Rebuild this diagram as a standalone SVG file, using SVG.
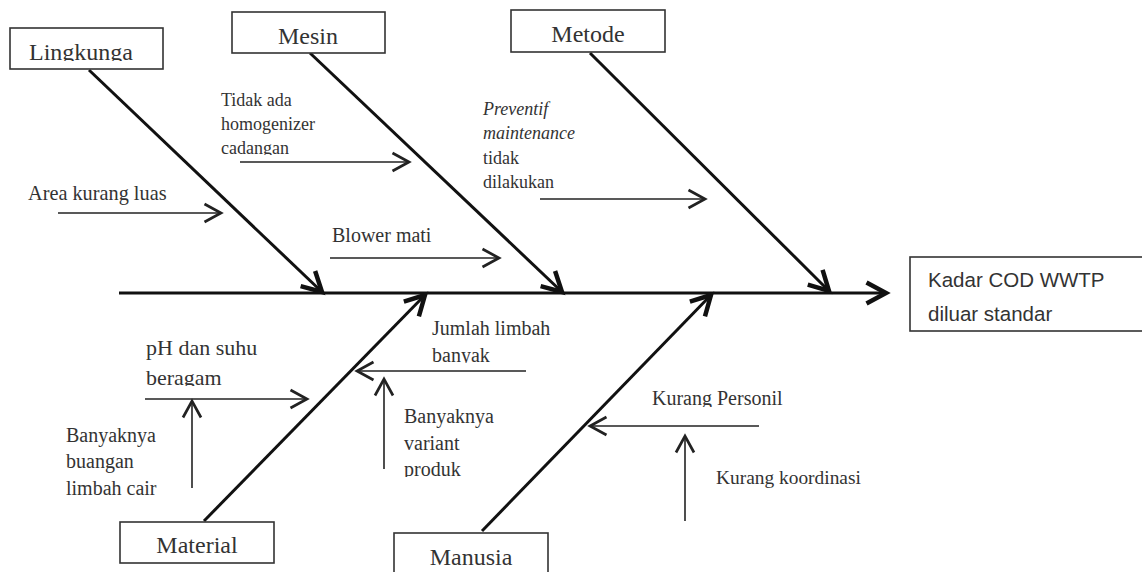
<svg xmlns="http://www.w3.org/2000/svg" width="1142" height="572" viewBox="0 0 1142 572">
<style>
.box{fill:#fff;stroke:#333;stroke-width:1.6}
.bone{stroke:#111;stroke-width:3;fill:none}
.sub{stroke:#222;stroke-width:1.6;fill:none}
.t{font-family:"Liberation Serif","Times New Roman",serif;fill:#333}
.cat{font-size:24px}
.s{font-size:18px}
.k{font-family:"Liberation Sans",Arial,sans-serif;font-size:20.5px;fill:#333}
</style>
<defs>
<marker id="ah" markerUnits="userSpaceOnUse" markerWidth="30" markerHeight="30" refX="0" refY="0" viewBox="-15 -10 20 20" orient="auto">
<path d="M-13,-7 L0,0 L-13,7" fill="none" stroke="#111" stroke-width="3"/>
</marker>
<marker id="as" markerUnits="userSpaceOnUse" markerWidth="30" markerHeight="30" refX="0" refY="0" viewBox="-15 -10 20 20" orient="auto">
<path d="M-11,-6 L0,0 L-11,6" fill="none" stroke="#222" stroke-width="1.8"/>
</marker>
<clipPath id="cLing"><rect x="10" y="28" width="153" height="33"/></clipPath>
<clipPath id="cJum"><rect x="420" y="310" width="150" height="53"/></clipPath>
<clipPath id="cPers"><rect x="640" y="380" width="160" height="27"/></clipPath>
<clipPath id="cPH"><rect x="130" y="330" width="160" height="56"/></clipPath>
<clipPath id="cVar"><rect x="395" y="400" width="120" height="77"/></clipPath>
<clipPath id="cKad"><rect x="912" y="259" width="230" height="64"/></clipPath>
<clipPath id="cTid"><rect x="210" y="80" width="150" height="75"/></clipPath>
</defs>

<g id="connectors">
<line class="bone" x1="119" y1="293" x2="886" y2="293" marker-end="url(#ah)"/>
<line class="bone" x1="89" y1="70" x2="322" y2="292" marker-end="url(#ah)"/>
<line class="bone" x1="310" y1="53" x2="562" y2="292" marker-end="url(#ah)"/>
<line class="bone" x1="590" y1="53" x2="829" y2="291" marker-end="url(#ah)"/>
<line class="bone" x1="204" y1="521" x2="425" y2="295" marker-end="url(#ah)"/>
<line class="bone" x1="482" y1="531" x2="711" y2="295" marker-end="url(#ah)"/>
<line class="sub" x1="240" y1="162" x2="409" y2="162" marker-end="url(#as)"/>
<line class="sub" x1="58" y1="213" x2="221" y2="213" marker-end="url(#as)"/>
<line class="sub" x1="330" y1="258" x2="499" y2="258" marker-end="url(#as)"/>
<line class="sub" x1="540" y1="199" x2="705" y2="199" marker-end="url(#as)"/>
<line class="sub" x1="526" y1="371" x2="357" y2="371" marker-end="url(#as)"/>
<line class="sub" x1="384" y1="469" x2="384" y2="379" marker-end="url(#as)"/>
<line class="sub" x1="145" y1="399" x2="307" y2="399" marker-end="url(#as)"/>
<line class="sub" x1="192" y1="488" x2="192" y2="401" marker-end="url(#as)"/>
<line class="sub" x1="759" y1="426" x2="590" y2="426" marker-end="url(#as)"/>
<line class="sub" x1="685" y1="521" x2="685" y2="436" marker-end="url(#as)"/>
</g>

<g id="node-lingkungan">
<rect class="box" x="10" y="28" width="153" height="41"/>
<text class="t cat" x="29" y="60" clip-path="url(#cLing)">Lingkunga</text>
</g>
<g id="node-mesin">
<rect class="box" x="232" y="12" width="153" height="41"/>
<text class="t cat" x="308" y="44" text-anchor="middle">Mesin</text>
</g>
<g id="node-metode">
<rect class="box" x="511" y="10" width="154" height="42"/>
<text class="t cat" x="588" y="42" text-anchor="middle">Metode</text>
</g>
<g id="node-material">
<rect class="box" x="120" y="522" width="154" height="41"/>
<text class="t cat" x="197" y="553" text-anchor="middle">Material</text>
</g>
<g id="node-manusia">
<rect class="box" x="394" y="533" width="154" height="45"/>
<text class="t cat" x="471" y="565" text-anchor="middle">Manusia</text>
</g>
<g id="node-effect">
<rect class="box" x="910" y="257" width="240" height="74"/>
<text class="k" clip-path="url(#cKad)"><tspan x="928" y="287">Kadar COD WWTP</tspan><tspan x="928" y="321">diluar standar</tspan></text>
</g>

<g id="cause-tidak-ada">
<text class="t s" clip-path="url(#cTid)"><tspan x="221" y="106">Tidak ada</tspan><tspan x="221" y="130">homogenizer</tspan><tspan x="221" y="154">cadangan</tspan></text>
</g>
<g id="cause-area">
<text class="t" font-size="20.3" x="28" y="200">Area kurang luas</text>
</g>
<g id="cause-blower">
<text class="t" font-size="20" x="332" y="242">Blower mati</text>
</g>
<g id="cause-preventif">
<text class="t s"><tspan x="483" y="115" font-style="italic">Preventif</tspan><tspan x="483" y="139" font-style="italic">maintenance</tspan><tspan x="483" y="164">tidak</tspan><tspan x="483" y="188">dilakukan</tspan></text>
</g>
<g id="cause-jumlah">
<text class="t" font-size="20" clip-path="url(#cJum)"><tspan x="432" y="335">Jumlah limbah</tspan><tspan x="432" y="362">banyak</tspan></text>
</g>
<g id="cause-variant">
<text class="t" font-size="20" clip-path="url(#cVar)"><tspan x="404" y="423">Banyaknya</tspan><tspan x="404" y="450">variant</tspan><tspan x="404" y="476">produk</tspan></text>
</g>
<g id="cause-ph">
<text class="t" font-size="22" clip-path="url(#cPH)"><tspan x="146" y="355">pH dan suhu</tspan><tspan x="146" y="385">beragam</tspan></text>
</g>
<g id="cause-buangan">
<text class="t" font-size="20"><tspan x="66" y="442">Banyaknya</tspan><tspan x="66" y="468">buangan</tspan><tspan x="66" y="495">limbah cair</tspan></text>
</g>
<g id="cause-personil">
<text class="t" font-size="20" x="652" y="405" clip-path="url(#cPers)">Kurang Personil</text>
</g>
<g id="cause-koordinasi">
<text class="t" font-size="19.4" x="716" y="484">Kurang koordinasi</text>
</g>
</svg>
